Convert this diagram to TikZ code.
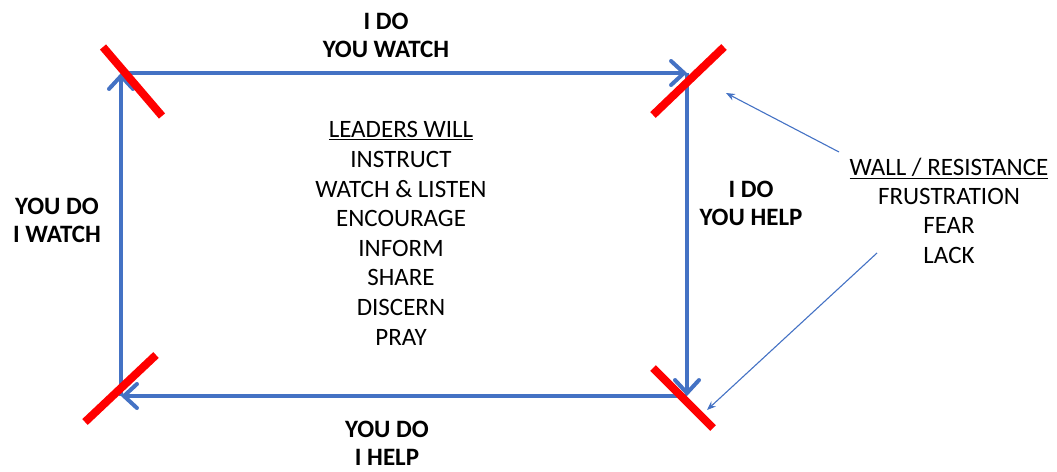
\documentclass[tikz,border=0pt]{standalone}
\usepackage{fontspec}
\setmainfont{Carlito}
\usetikzlibrary{arrows.meta}
\definecolor{pblue}{HTML}{4472C4}
\begin{document}
\begin{tikzpicture}[x=1pt,y=-1pt,
  flow/.style={draw=pblue,line width=4pt,-{Straight Barb[length=13pt,width=24pt,line cap=round]}},
  wall/.style={draw=red,line width=8pt},
  hint/.style={draw=pblue,line width=1.1pt,-{Stealth[length=9pt,width=7pt]}},
  lbl/.style={font=\fontsize{25}{29.6}\selectfont,align=center,anchor=base,inner sep=0pt},
  boldlbl/.style={lbl,font=\fontsize{25}{28}\selectfont\bfseries}]
\useasboundingbox (0,0) rectangle (1057,471);
% corners of the cycle
\coordinate (TL) at (121,73);
\coordinate (TR) at (687,73);
\coordinate (BR) at (687,396);
\coordinate (BL) at (121,396);
% cycle arrows
\draw[flow] (BL) -- (TL);
\draw[flow] (TL) -- (TR);
\draw[flow] (TR) -- (BR);
\draw[flow] (BR) -- (BL);
% walls
\coordinate (w1a) at (103,47);  \coordinate (w1b) at (162,116);
\coordinate (w2a) at (724,47);  \coordinate (w2b) at (653,115);
\coordinate (w3a) at (156,355); \coordinate (w3b) at (85,422);
\coordinate (w4a) at (653,368); \coordinate (w4b) at (713,428);
\draw[wall] (w1a) -- (w1b);
\draw[wall] (w2a) -- (w2b);
\draw[wall] (w3a) -- (w3b);
\draw[wall] (w4a) -- (w4b);
% labels (anchor base = baseline of the last line)
\node[boldlbl] (top) at (386,57) {I DO\\YOU WATCH};
\node[boldlbl] (left) at (57,242) {YOU DO\\I WATCH};
\node[boldlbl] (right) at (751,225) {I DO\\YOU HELP};
\node[boldlbl] (bottom) at (387,465) {YOU DO\\I HELP};
\node[lbl] (leaders) at (401,345) {\underline{LEADERS WILL}\\INSTRUCT\\WATCH \& LISTEN\\ENCOURAGE\\INFORM\\SHARE\\DISCERN\\PRAY};
\node[lbl,font=\fontsize{25}{29.2}\selectfont] (wall) at (949,263) {\underline{WALL / RESISTANCE}\\FRUSTRATION\\FEAR\\LACK};
% pointers
\coordinate (p1s) at (839,152); \coordinate (p1e) at (726,93);
\coordinate (p2s) at (877,253); \coordinate (p2e) at (707,410);
\draw[hint] (p1s) -- (p1e);
\draw[hint] (p2s) -- (p2e);
\end{tikzpicture}
\end{document}
